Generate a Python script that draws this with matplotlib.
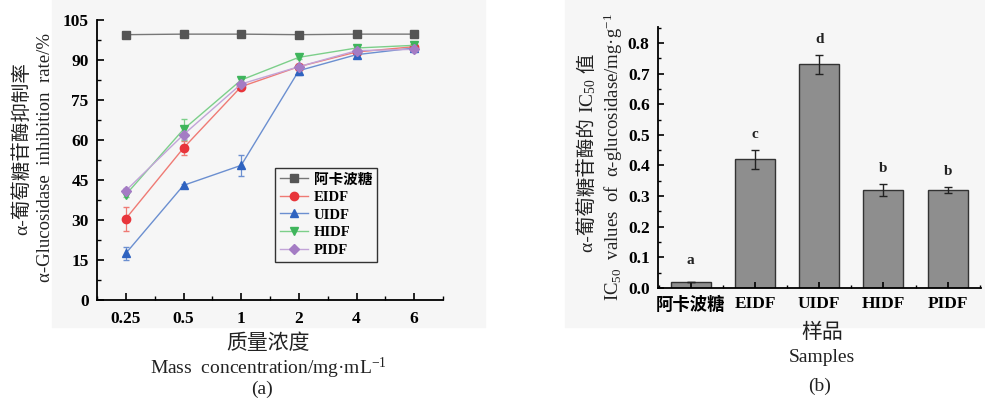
import matplotlib
matplotlib.use("Agg")
import matplotlib.pyplot as plt
from matplotlib.patches import Rectangle
from matplotlib.ticker import MultipleLocator
from matplotlib.font_manager import FontProperties
import numpy as np

plt.rcParams['font.family'] = ['Liberation Serif', 'Noto Sans CJK SC']
plt.rcParams['mathtext.fontset'] = 'custom'
plt.rcParams['mathtext.rm'] = 'Liberation Serif'
plt.rcParams['mathtext.it'] = 'Liberation Serif:italic'

# ---------- data (a) ----------
conc_labels = ['0.25', '0.5', '1', '2', '4', '6']
series_names = ['阿卡波糖', 'EIDF', 'UIDF', 'HIDF', 'PIDF']
acarbose = [99.5, 99.7, 99.7, 99.5, 99.7, 99.7]
acarbose_err = [0.3, 0.3, 0.3, 0.3, 0.3, 0.3]
eidf = [30.5, 57.0, 80.0, 87.5, 93.0, 95.0]
eidf_err = [4.5, 2.5, 1.0, 1.0, 0.8, 0.8]
uidf = [17.5, 43.0, 50.5, 86.0, 92.0, 94.5]
uidf_err = [2.5, 0.5, 4.0, 1.5, 0.8, 0.8]
hidf = [39.5, 64.0, 82.5, 91.0, 94.5, 95.5]
hidf_err = [1.0, 4.0, 0.8, 0.8, 0.8, 0.8]
pidf = [41.0, 62.0, 81.0, 87.5, 93.5, 94.0]
pidf_err = [1.0, 1.5, 0.8, 0.8, 0.8, 0.8]

# ---------- data (b) ----------
samples = ['阿卡波糖', 'EIDF', 'UIDF', 'HIDF', 'PIDF']
ic50 = [0.02, 0.42, 0.73, 0.32, 0.32]
ic50_err = [0.0, 0.03, 0.03, 0.02, 0.01]
sig_letters = ['a', 'c', 'd', 'b', 'b']

fig = plt.figure(figsize=(9.85, 3.98), dpi=100)
W, H = 985, 398

# light grey panel backgrounds
fig.patches.append(Rectangle((52 / W, 1 - 327 / H), (485 - 52) / W, 327 / H,
                             transform=fig.transFigure, color='#f6f6f6', zorder=-10))
fig.patches.append(Rectangle((565 / W, 1 - 327 / H), (985 - 565) / W, 327 / H,
                             transform=fig.transFigure, color='#f6f6f6', zorder=-10))

def px_axes(x0, x1, y0, y1):
    return fig.add_axes([x0 / W, 1 - y1 / H, (x1 - x0) / W, (y1 - y0) / H])

tickfp = FontProperties(family=['Liberation Serif', 'Noto Sans CJK SC'], weight='bold', size=12.5)
TXT = '#222222'
LBL = 14
YLBL = 13.5

# ---------- panel (a) ----------
ax = px_axes(97, 443, 20, 300)
ax.set_facecolor('none')
x = np.arange(len(conc_labels))
styles = [
    (acarbose, acarbose_err, 's', '#555555', '#777777'),
    (eidf, eidf_err, 'o', '#e8353b', '#ef7a74'),
    (uidf, uidf_err, '^', '#2f63c0', '#6b8fd0'),
    (hidf, hidf_err, 'v', '#3fb55c', '#7ccf8a'),
    (pidf, pidf_err, 'D', '#a47cc4', '#c2a4d8'),
]
handles = []
for (vals, errs, mk, mc, lc), name in zip(styles, series_names):
    cont = ax.errorbar(x, vals, yerr=errs, marker=mk, color=lc, markerfacecolor=mc,
                       markeredgecolor=mc, markersize=6 if mk != 'D' else 5, lw=1.0,
                       ecolor=lc, elinewidth=0.9, capsize=2.5, label=name)
    handles.append(cont[0])
ax.set_xlim(-0.5, 5.5)
ax.set_ylim(0, 105)
ax.set_xticks(x)
ax.set_xticklabels(conc_labels)
ax.set_yticks(np.arange(0, 106, 15))
ax.yaxis.set_minor_locator(MultipleLocator(7.5))
ax.set_xticks(np.arange(-0.5, 5.6, 1.0), minor=True)
for s in ['top', 'right']:
    ax.spines[s].set_visible(False)
for s in ['left', 'bottom']:
    ax.spines[s].set_linewidth(1.3)
ax.tick_params(axis='both', which='major', direction='in', length=5, width=1.2)
ax.tick_params(axis='both', which='minor', direction='in', length=3, width=1.0)
ax.tick_params(axis='x', which='major', pad=8)
ax.tick_params(axis='y', which='major', pad=6)
for lbl in ax.get_xticklabels() + ax.get_yticklabels():
    lbl.set_fontproperties(tickfp)
leg = ax.legend(handles, series_names, loc='upper left',
                bbox_to_anchor=((275 - 97) / (443 - 97), 1 - (168 - 20) / 280),
                frameon=True, fancybox=False, edgecolor='#333333', framealpha=1,
                facecolor='#f6f6f6', borderpad=0.35, labelspacing=0.3, handlelength=1.9,
                handletextpad=0.4, borderaxespad=0,
                prop=FontProperties(family=['Liberation Serif', 'Noto Sans CJK SC'], weight='bold', size=10.5))
leg.get_frame().set_linewidth(1.0)

fig.text(268 / W, 1 - 343 / H, '质量浓度', ha='center', va='center', fontsize=15,
         family=['Noto Sans CJK SC'], color=TXT)
fig.text(268 / W, 1 - 368 / H, 'Mass  concentration/mg·mL$^{-1}$', ha='center', va='center',
         fontsize=LBL, color=TXT)
fig.text(262 / W, 1 - 389 / H, '(a)', ha='center', va='center', fontsize=LBL, color=TXT)
fig.text(22 / W, 1 - 149 / H, 'α-葡萄糖苷酶抑制率', rotation=90, ha='center', va='center',
         fontsize=14, color=TXT)
fig.text(46 / W, 1 - 157 / H, 'α-Glucosidase  inhibition  rate/%', rotation=90, ha='center',
         va='center', fontsize=YLBL, color=TXT)

# ---------- panel (b) ----------
bx = px_axes(658, 981, 27, 288)
bx.set_facecolor('none')
xb = np.arange(len(samples))
bx.bar(xb, ic50, width=0.62, color='#8e8e8e', edgecolor='#333333', linewidth=1.0,
       yerr=ic50_err, capsize=3, error_kw=dict(ecolor='#222222', elinewidth=1.0, capthick=1.0))
for xi, v, e, t in zip(xb, ic50, ic50_err, sig_letters):
    bx.text(xi, max(v + e, 0.04) + 0.03, t, ha='center', va='bottom', fontsize=11,
            fontweight='bold', color=TXT)
bx.set_xlim(-0.51, 4.52)
bx.set_ylim(0, 0.852)
bx.set_xticks(xb)
bx.set_xticklabels(samples)
bx.set_yticks(np.arange(0, 0.81, 0.1))
bx.set_yticklabels(['%.1f' % v for v in np.arange(0, 0.81, 0.1)])
bx.yaxis.set_minor_locator(MultipleLocator(0.05))
bx.set_xticks(np.arange(-0.5, 4.6, 1.0), minor=True)
for s in ['top', 'right']:
    bx.spines[s].set_visible(False)
for s in ['left', 'bottom']:
    bx.spines[s].set_linewidth(1.3)
bx.tick_params(axis='both', which='major', direction='in', length=4, width=1.2)
bx.tick_params(axis='both', which='minor', direction='in', length=2.5, width=1.0)
bx.tick_params(axis='x', which='major', pad=6)
bx.tick_params(axis='y', which='major', pad=6)
for lbl in bx.get_xticklabels() + bx.get_yticklabels():
    lbl.set_fontproperties(tickfp)

fig.text(822 / W, 1 - 332 / H, '样品', ha='center', va='center', fontsize=15,
         family=['Noto Sans CJK SC'], color=TXT)
fig.text(822 / W, 1 - 357 / H, 'Samples', ha='center', va='center', fontsize=LBL, color=TXT)
fig.text(820 / W, 1 - 386 / H, '(b)', ha='center', va='center', fontsize=LBL, color=TXT)
fig.text(613 / W, 1 - 157 / H, 'IC$_{50}$  values  of  α-glucosidase/mg·g$^{-1}$', rotation=90,
         ha='center', va='center', fontsize=YLBL, color=TXT)

# Chinese y-label of (b): pieces stacked along a rotated line (CJK + mathtext subscript)
renderer = fig.canvas.get_renderer()
pieces = ['α-葡萄糖苷酶的 ', 'IC$_{50}$', ' 值']
xc = 588 / W
texts = []
heights = []
for p in pieces:
    t = fig.text(xc, 0.5, p, rotation=90, ha='center', va='bottom', fontsize=14, color=TXT)
    heights.append(t.get_window_extent(renderer).height)
    texts.append(t)
total = sum(heights)
cur = 153 + total / 2  # pixel from top where the bottom of the line sits
for t, h in zip(texts, heights):
    t.set_y(1 - cur / H)
    cur -= h

fig.savefig('out.png', dpi=100)
